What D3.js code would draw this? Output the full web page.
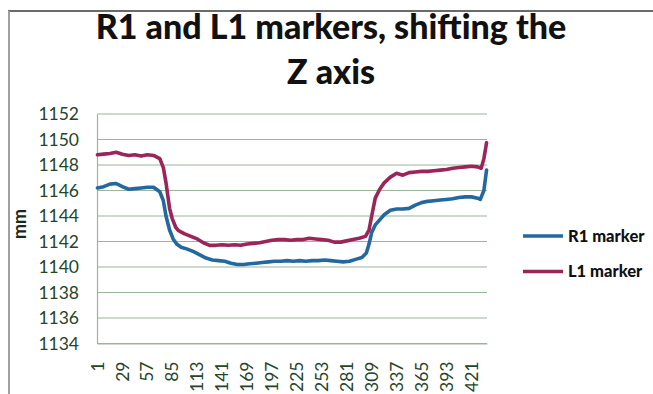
<!DOCTYPE html>
<html><head><meta charset="utf-8">
<script src="https://cdn.jsdelivr.net/npm/d3@7"></script>
<style>
html,body{margin:0;padding:0;background:#fff;}
svg{display:block;font-family:Lato,"Open Sans",sans-serif;}
</style></head>
<body>
<svg id="c" width="653" height="394"></svg>
<script>
// ---- data ----
const sampleCount = 438;
const xTickLabels = [1, 29, 57, 85, 113, 141, 169, 197, 225, 253, 281, 309, 337, 365, 393, 421];
const yTicks = [1134, 1136, 1138, 1140, 1142, 1144, 1146, 1148, 1150, 1152];
const seriesNames = ["R1 marker", "L1 marker"];
const r1Index = [1,8,15,22,29,36,43,50,57,64,71,75,78,82,86,90,95,102,109,116,123,130,137,144,151,158,165,172,179,186,193,200,207,214,221,228,235,242,249,256,263,270,277,284,291,298,303,306,309,313,318,323,330,337,344,351,358,365,372,379,386,393,400,407,414,421,428,431,435,438];
const r1Values = [1146.2,1146.3,1146.5,1146.55,1146.3,1146.1,1146.15,1146.2,1146.25,1146.25,1145.9,1145.2,1144.0,1142.9,1142.2,1141.8,1141.55,1141.4,1141.2,1140.95,1140.7,1140.55,1140.5,1140.45,1140.3,1140.2,1140.2,1140.25,1140.3,1140.35,1140.4,1140.45,1140.45,1140.5,1140.45,1140.5,1140.45,1140.5,1140.5,1140.55,1140.5,1140.45,1140.4,1140.45,1140.6,1140.75,1141.1,1141.8,1142.7,1143.3,1143.7,1144.1,1144.45,1144.55,1144.55,1144.6,1144.85,1145.05,1145.15,1145.2,1145.25,1145.3,1145.35,1145.45,1145.5,1145.5,1145.4,1145.3,1146.0,1147.6];
const l1Index = [1,8,15,22,29,36,43,50,57,64,71,75,78,82,85,89,92,99,106,113,120,127,134,141,148,155,162,169,176,183,190,197,204,211,218,225,232,239,246,253,260,267,274,281,288,295,302,306,309,313,318,323,330,337,344,351,358,365,372,379,386,393,400,407,414,421,428,432,435,438];
const l1Values = [1148.8,1148.85,1148.9,1149.0,1148.85,1148.75,1148.8,1148.7,1148.8,1148.75,1148.5,1147.8,1146.6,1144.6,1143.8,1143.1,1142.85,1142.6,1142.4,1142.2,1141.9,1141.7,1141.7,1141.75,1141.7,1141.75,1141.7,1141.8,1141.85,1141.9,1142.0,1142.1,1142.15,1142.15,1142.1,1142.15,1142.15,1142.25,1142.2,1142.15,1142.1,1141.95,1141.95,1142.05,1142.15,1142.25,1142.4,1142.9,1144.0,1145.4,1146.1,1146.6,1147.05,1147.35,1147.2,1147.4,1147.45,1147.5,1147.5,1147.55,1147.6,1147.65,1147.75,1147.8,1147.85,1147.9,1147.85,1147.75,1148.5,1149.75];
const colors = ["#23699f", "#992559"];

// ---- layout ----
const svg = d3.select("#c");
const plot = {left: 97, right: 487, top: 114, bottom: 343.5};

// frame
svg.append("line").attr("x1", 8).attr("x2", 653).attr("y1", 11).attr("y2", 11).attr("stroke", "#6a6a6a").attr("stroke-width", 2);
svg.append("line").attr("x1", 9).attr("x2", 9).attr("y1", 11).attr("y2", 394).attr("stroke", "#a0a0a0").attr("stroke-width", 2);

// title
const title = svg.append("text").attr("text-anchor", "middle").attr("font-weight", 900).attr("font-size", 34).attr("fill", "#111");
title.append("tspan").attr("x", 331).attr("y", 39).text("R1 and L1 markers, shifting the");
title.append("tspan").attr("x", 331).attr("y", 84).text("Z axis");

const categories = d3.range(1, sampleCount + 1);
const x = d3.scaleBand().domain(categories).range([plot.left, plot.right]).padding(0);
const xc = i => x(i) + x.bandwidth() / 2;
const y = d3.scaleLinear().domain([1134, 1152]).range([plot.bottom, plot.top]);

// gridlines
svg.append("g").selectAll("line").data(yTicks).join("line")
  .attr("x1", plot.left).attr("x2", plot.right)
  .attr("y1", d => y(d)).attr("y2", d => y(d))
  .attr("stroke", "#9cb39c").attr("stroke-width", 1.2);

// y axis
const yAxis = svg.append("g").attr("transform", `translate(${plot.left},0)`)
  .call(d3.axisLeft(y).tickValues(yTicks).tickSize(0).tickPadding(18).tickFormat(d3.format("d")));
yAxis.select(".domain").attr("stroke", "#9cb39c").attr("stroke-width", 1.2);
yAxis.selectAll("text").attr("font-size", 17.5).attr("fill", "#24452a").attr("font-family", "Lato, sans-serif");

// x axis
const xAxis = svg.append("g").attr("transform", `translate(0,${plot.bottom})`)
  .call(d3.axisBottom(x).tickValues(xTickLabels).tickSize(0).tickPadding(0));
xAxis.select(".domain").attr("stroke", "#9cb39c").attr("stroke-width", 1.2);
xAxis.selectAll("text").attr("font-size", 17.5).attr("fill", "#24452a").attr("font-family", "Lato, sans-serif")
  .attr("text-anchor", "end").attr("dy", "0.35em").attr("y", 0)
  .attr("transform", "translate(0,18) rotate(-90)");

// axis title
svg.append("text").attr("transform", "translate(26,224) rotate(-90)").attr("text-anchor", "middle")
  .attr("font-weight", "bold").attr("font-size", 18).attr("fill", "#1a2a1a").text("mm");

// lines
const line = d3.line().x(d => xc(d[0])).y(d => y(d[1]));
const series = [d3.zip(r1Index, r1Values), d3.zip(l1Index, l1Values)];
series.forEach((s, k) => {
  svg.append("path").datum(s).attr("d", line).attr("fill", "none")
    .attr("stroke", colors[k]).attr("stroke-width", 3.6).attr("stroke-linejoin", "round").attr("stroke-linecap", "round");
});

// legend
const lg = svg.append("g");
seriesNames.forEach((n, k) => {
  const ly = 236 + k * 35.5;
  lg.append("line").attr("x1", 523).attr("x2", 563).attr("y1", ly).attr("y2", ly).attr("stroke", colors[k]).attr("stroke-width", 3.6);
  lg.append("text").attr("x", 568).attr("y", ly).attr("dy", "0.36em").attr("font-weight", 900).attr("font-size", 16.5).attr("fill", "#111").text(n);
});
</script>
</body></html>
